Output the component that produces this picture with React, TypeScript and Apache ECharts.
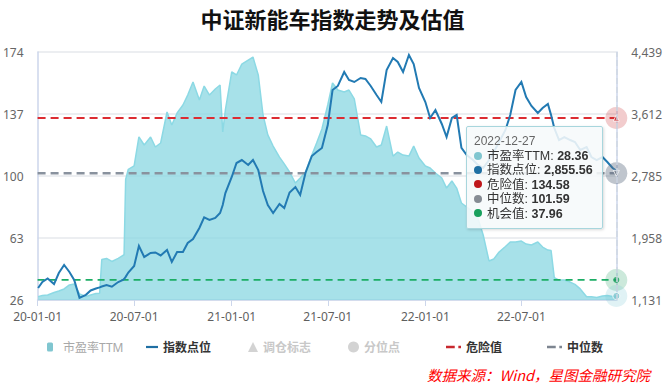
import React, { useEffect, useRef } from 'react';
import * as echarts from 'echarts';

// ---------- data ----------
const dates = [
  '2020-01-02', '2020-01-10', '2020-01-20', '2020-02-01', '2020-02-10', '2020-02-20',
  '2020-03-01', '2020-03-10', '2020-03-20', '2020-04-01', '2020-04-10', '2020-04-20',
  '2020-04-27', '2020-05-01', '2020-05-10', '2020-05-20', '2020-06-01', '2020-06-10',
  '2020-06-12', '2020-06-15', '2020-06-20', '2020-07-01', '2020-07-10', '2020-07-20',
  '2020-08-01', '2020-08-10', '2020-08-20', '2020-09-01', '2020-09-10', '2020-09-20',
  '2020-10-01', '2020-10-10', '2020-10-20', '2020-11-01', '2020-11-10', '2020-11-20',
  '2020-12-01', '2020-12-10', '2020-12-15', '2020-12-20',
  '2021-01-01', '2021-01-10', '2021-01-20', '2021-02-01', '2021-02-10', '2021-02-20',
  '2021-03-01', '2021-03-10', '2021-03-20', '2021-04-01', '2021-04-10', '2021-04-20',
  '2021-05-01', '2021-05-10', '2021-05-20', '2021-06-01', '2021-06-10', '2021-06-20',
  '2021-07-01', '2021-07-10', '2021-07-20', '2021-08-01', '2021-08-10', '2021-08-20',
  '2021-09-01', '2021-09-10', '2021-09-20', '2021-10-01', '2021-10-10', '2021-10-20',
  '2021-11-01', '2021-11-10', '2021-11-20', '2021-12-01', '2021-12-10', '2021-12-20',
  '2022-01-01', '2022-01-10', '2022-01-20', '2022-02-01', '2022-02-10', '2022-02-20',
  '2022-03-01', '2022-03-10', '2022-03-20', '2022-04-01', '2022-04-10', '2022-04-20',
  '2022-05-01', '2022-05-10', '2022-05-20', '2022-06-01', '2022-06-10', '2022-06-20',
  '2022-07-01', '2022-07-10', '2022-07-20', '2022-08-01', '2022-08-10', '2022-08-20',
  '2022-08-26', '2022-09-01', '2022-09-10', '2022-09-20', '2022-10-01', '2022-10-10',
  '2022-10-20', '2022-11-01', '2022-11-10', '2022-11-20', '2022-12-01', '2022-12-10',
  '2022-12-20', '2022-12-27',
];

const peTTM = [
  28.0, 28.7, 29.0, 30.5, 31.4, 32.6,
  35.0, 35.5, 29.6, 28.1, 29.0, 29.9,
  30.0, 50.2, 50.8, 49.0, 50.8, 52.6,
  53.0, 98.0, 104.0, 106.0, 123.3, 118.5,
  123.3, 117.3, 119.7, 138.2, 130.4, 137.6,
  142.4, 148.3, 156.1, 145.4, 153.7, 148.3,
  151.9, 154.3, 126.3, 139.4,
  162.1, 160.3, 166.8, 169.2, 171.0, 160.3,
  136.4, 124.5, 117.9, 111.3, 107.2, 102.4,
  95.8, 98.8, 102.4, 112.5, 119.7, 128.1,
  142.4, 155.5, 151.3, 150.1, 151.3, 146.0,
  124.5, 123.9, 122.1, 117.3, 118.5, 129.8,
  111.9, 114.3, 112.5, 111.9, 117.9, 110.7,
  106.0, 104.8, 101.8, 98.8, 92.8, 97.0,
  92.8, 83.9, 81.5, 78.5, 74.9, 64.8,
  49.3, 50.5, 54.6, 57.9, 60.6, 60.6,
  61.2, 59.4, 58.8, 60.6, 57.6, 55.8,
  55.5, 39.4, 37.9, 37.9, 36.7, 35.3,
  32.6, 28.0, 28.0, 27.5, 28.4, 28.7,
  28.1, 28.36,
];

const indexPoints = [
  1291, 1371, 1418, 1344, 1491, 1598,
  1505, 1398, 1160, 1200, 1258, 1284,
  1300, 1311, 1331, 1308, 1371, 1398,
  1410, 1440, 1498, 1585, 1851, 1705,
  1758, 1765, 1725, 1798, 1638, 1771,
  1771, 1891, 1945, 2091, 2232, 2198,
  2225, 2292, 2398, 2558,
  2772, 2958, 2998, 2932, 2998, 2865,
  2585, 2398, 2292, 2412, 2358, 2565,
  2638, 2532, 2825, 3052, 3105, 3158,
  3465, 3932, 3986, 4172, 4066, 4039,
  4092, 4079, 3986, 3865, 3772, 4199,
  4359, 4306, 4172, 4399, 4279, 3959,
  3772, 3559, 3665, 3479, 3305, 3559,
  3599, 3159, 3065, 2998, 2932, 2892,
  2998, 3105, 3239, 3399, 3599, 3932,
  4039, 3839, 3719, 3625, 3692, 3745,
  3600, 3425, 3265, 3305, 3265, 3239,
  3132, 3172, 3038, 2998, 3038, 2972,
  2892, 2855.56,
];

const DANGER = 134.58;
const MEDIAN = 101.59;
const CHANCE = 37.96;

const X_MIN = '2020-01-01';
const xTickDates = ['2020-01-01', '2020-07-01', '2021-01-01', '2021-07-01', '2022-01-01', '2022-07-01'];
const leftAxis = { min: 26, max: 174, interval: 37 };
const rightAxis = { min: 1131, max: 4439, interval: 827 };

const TITLE = '中证新能车指数走势及估值';
const SOURCE = '数据来源：Wind，星图金融研究院';

// ---------- helpers ----------
const parseLocal = (s: string) => {
  const [y, m, d] = s.split('-').map(Number);
  return new Date(y, m - 1, d).getTime();
};
const pad = (n: number) => (n < 10 ? '0' + n : '' + n);
const fmtShort = (v: number) => {
  const d = new Date(v);
  return `${pad(d.getFullYear() % 100)}-${pad(d.getMonth() + 1)}-${pad(d.getDate())}`;
};

const FONT = "'Noto Sans', 'Noto Sans CJK SC', sans-serif";
const TIP_FONT = "'Liberation Sans', 'Noto Sans CJK SC', sans-serif";
const C_PE_LINE = '#80c6d0';
const C_PE_AREA = 'rgb(125,196,206)';
const C_IDX = '#1f6fa3';
const C_RED = '#c8282e';
const C_GRAY = '#7d8590';
const C_GREEN = '#1a9e5c';
const C_AXIS = '#ccd6eb';

const ICON_LINE = 'path://M0,0h12v2.2h-12z';
const ICON_DASH = 'path://M0,0h8.5v2.4h-8.5z M12,0h2.6v2.4h-2.6z';

export default function App() {
  const ref = useRef<HTMLDivElement>(null);

  useEffect(() => {
    if (!ref.current) return;
    const chart = echarts.init(ref.current, undefined, { renderer: 'svg' });
    const n = dates.length;
    const last = dates[n - 1];
    const xMin = parseLocal(X_MIN);
    const xMax = parseLocal(last);
    const peData = dates.map((d, i) => [parseLocal(d), peTTM[i]]);
    const idxData = dates.map((d, i) => [parseLocal(d), indexPoints[i]]);
    const flat = (v: number) => [[xMin, v], [xMax, v]];
    const tickVals = xTickDates.map(parseLocal);

    const dot = (c: string) =>
      `<span style="display:inline-block;width:8px;height:8px;border-radius:50%;background:${c};margin-right:5px;vertical-align:middle;position:relative;top:-1px"></span>`;
    const row = (c: string, name: string, v: string) =>
      `<div style="line-height:14.4px;height:14.4px;white-space:nowrap">${dot(c)}${name}: <b>${v}</b></div>`;

    const legendBase = {
      top: 336,
      textStyle: { fontSize: 12, fontWeight: 'bold', color: '#333', fontFamily: FONT },
      inactiveColor: '#c8c8c8',
    };

    const option: any = {
      animation: false,
      textStyle: { fontFamily: FONT },
      title: {
        text: TITLE,
        left: 'center',
        top: 2,
        textStyle: { fontSize: 22, fontWeight: 'bold', color: '#111', fontFamily: "'Noto Sans CJK SC', sans-serif" },
      },
      grid: { left: 37, right: 48, top: 52, bottom: 84 },
      tooltip: {
        trigger: 'axis',
        triggerOn: 'none',
        alwaysShowContent: true,
        transitionDuration: 0,
        position: [466, 126],
        backgroundColor: 'rgba(246,249,250,0.88)',
        borderColor: '#a8d6dd',
        borderWidth: 1.5,
        padding: [6, 9, 7, 7],
        extraCssText: 'box-shadow: 1px 1px 3px rgba(0,0,0,0.15); border-radius: 2px;',
        axisPointer: { type: 'line', lineStyle: { color: '#cfd8e2', width: 1.5 } },
        formatter: () => {
          const idxStr = indexPoints[n - 1].toLocaleString('en-US', { minimumFractionDigits: 2, maximumFractionDigits: 2 });
          return `<div style="font-family:'Liberation Sans','Noto Sans CJK SC',sans-serif;font-size:12.5px;color:#333">` +
            `<div style="font-size:12px;color:#666;line-height:16px;height:16px">${last}</div>` +
            row(C_PE_LINE, '市盈率TTM', peTTM[n - 1].toFixed(2)) +
            row(C_IDX, '指数点位', idxStr) +
            row('#c0171c', '危险值', DANGER.toFixed(2)) +
            row('#868c94', '中位数', MEDIAN.toFixed(2)) +
            row('#17a05d', '机会值', CHANCE.toFixed(2)) +
            `</div>`;
        },
        textStyle: { fontFamily: TIP_FONT },
      },
      legend: [
        { ...legendBase, left: 42, itemWidth: 6, itemHeight: 9, data: [{ name: '市盈率TTM', icon: 'roundRect' }],
          textStyle: { ...legendBase.textStyle, fontWeight: 'normal', color: '#a8a8a8', padding: [0, 0, 0, 5] } },
        { ...legendBase, left: 141, itemWidth: 12, itemHeight: 8, data: [{ name: '指数点位', icon: ICON_LINE }] },
        { ...legendBase, left: 243, itemWidth: 10, itemHeight: 10, data: [{ name: '调仓标志', icon: 'triangle' }],
          selected: { '调仓标志': false } },
        { ...legendBase, left: 343, itemWidth: 11, itemHeight: 11, data: [{ name: '分位点', icon: 'circle' }],
          selected: { '分位点': false } },
        { ...legendBase, left: 441, itemWidth: 15, itemHeight: 8, data: [{ name: '危险值', icon: ICON_DASH }] },
        { ...legendBase, left: 542, itemWidth: 15, itemHeight: 8, data: [{ name: '中位数', icon: ICON_DASH }] },
      ],
      xAxis: {
        type: 'value',
        min: xMin,
        max: xMax,
        axisLine: { lineStyle: { color: C_AXIS, width: 1.5 } },
        axisTick: { show: true, length: 6, lineStyle: { color: C_AXIS }, customValues: tickVals },
        axisLabel: {
          customValues: tickVals,
          formatter: (v: number) => fmtShort(v),
          color: '#5f5f5f',
          fontSize: 12,
          margin: 10,
        },
        splitLine: { show: false },
      },
      yAxis: [
        {
          type: 'value',
          min: leftAxis.min,
          max: leftAxis.max,
          interval: leftAxis.interval,
          axisLine: { show: true, lineStyle: { color: C_AXIS, width: 1.5 } },
          axisTick: { show: false },
          axisLabel: { color: '#666', fontSize: 12, margin: 14 },
          splitLine: { show: true, lineStyle: { color: '#e6e8ec', width: 1.5 } },
        },
        {
          type: 'value',
          min: rightAxis.min,
          max: rightAxis.max,
          interval: rightAxis.interval,
          axisLine: { show: true, lineStyle: { color: C_AXIS, width: 1.5 } },
          axisTick: { show: false },
          axisLabel: { color: '#666', fontSize: 12, margin: 15 },
          splitLine: { show: false },
        },
      ],
      series: [
        {
          name: '市盈率TTM',
          type: 'line',
          yAxisIndex: 0,
          data: peData,
          symbol: 'none',
          showSymbol: false,
          color: C_PE_LINE,
          lineStyle: { color: C_PE_LINE, width: 1.5 },
          areaStyle: { color: C_PE_AREA, opacity: 0.75 },
          z: 1,
        },
        {
          name: '调仓标志', type: 'scatter', data: [], symbol: 'triangle', color: '#c8282e',
        },
        {
          name: '分位点', type: 'scatter', data: [], symbol: 'circle', color: '#999',
        },
        {
          name: '危险值', type: 'line', yAxisIndex: 0, data: flat(DANGER), symbol: 'none', showSymbol: false, color: C_RED,
          lineStyle: { color: C_RED, width: 2, type: [8, 5] }, z: 3,
        },
        {
          name: '中位数', type: 'line', yAxisIndex: 0, data: flat(MEDIAN), symbol: 'none', showSymbol: false, color: C_GRAY,
          lineStyle: { color: C_GRAY, width: 2.5, type: [8, 5] }, z: 3,
        },
        {
          name: '机会值', type: 'line', yAxisIndex: 0, data: flat(CHANCE), symbol: 'none', showSymbol: false, color: C_GREEN,
          lineStyle: { color: C_GREEN, width: 1.8, type: [7, 5] }, z: 3,
        },
        {
          name: '指数点位',
          type: 'line',
          yAxisIndex: 1,
          data: idxData,
          symbol: 'none',
          showSymbol: false,
          color: C_IDX,
          lineStyle: { color: C_IDX, width: 2, join: 'miter' },
          z: 5,
        },
        {
          name: 'halo',
          type: 'scatter',
          yAxisIndex: 0,
          clip: false,
          silent: true,
          emphasis: { disabled: true },
          z: 10,
          data: [
            { value: [xMax, DANGER], symbolSize: 22, itemStyle: { color: 'rgba(200,40,46,0.3)' } },
            { value: [xMax, DANGER], symbol: 'triangle', symbolSize: 6, itemStyle: { color: C_RED, borderColor: '#fff', borderWidth: 1 } },
            { value: [xMax, MEDIAN], symbolSize: 22, itemStyle: { color: 'rgba(95,110,130,0.5)' } },
            { value: [xMax, MEDIAN], symbol: 'triangle', symbolRotate: 180, symbolSize: 6, itemStyle: { color: C_GRAY, borderColor: '#fff', borderWidth: 1 } },
            { value: [xMax, CHANCE], symbolSize: 22, itemStyle: { color: 'rgba(26,158,92,0.28)' } },
            { value: [xMax, CHANCE], symbolSize: 6, itemStyle: { color: C_GREEN } },
            { value: [xMax, peTTM[n - 1]], symbolSize: 22, itemStyle: { color: 'rgba(127,202,213,0.3)' } },
            { value: [xMax, peTTM[n - 1]], symbolSize: 7, itemStyle: { color: C_PE_LINE, borderColor: '#fff', borderWidth: 1 } },
          ],
        },
      ],
      graphic: [
        {
          type: 'text',
          left: 427,
          top: 367,
          style: {
            text: SOURCE,
            fill: '#ff0000',
            fontSize: 14.5,
            fontStyle: 'italic',
            fontFamily: "'Noto Sans CJK SC', sans-serif",
          },
        },
      ],
    };

    chart.setOption(option);
    chart.dispatchAction({ type: 'showTip', seriesIndex: 0, dataIndex: n - 1 });

    return () => {
      chart.dispose();
    };
  }, []);

  return (
    <div
      ref={ref}
      style={{ position: 'absolute', left: 0, top: 0, width: 665, height: 384, background: '#fff' }}
    />
  );
}
